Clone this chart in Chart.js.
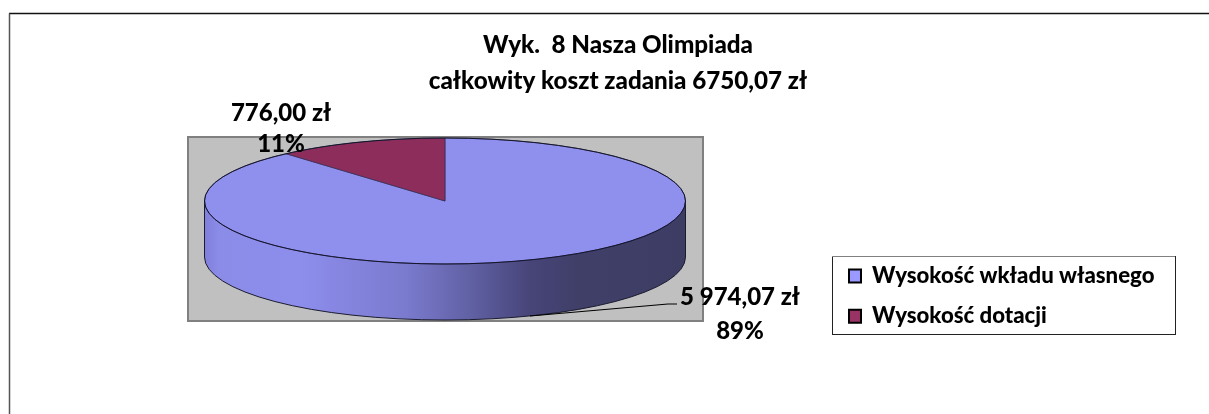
<!DOCTYPE html>
<html lang="pl">
<head>
<meta charset="utf-8">
<title>Wyk. 8 Nasza Olimpiada</title>
<script src="https://cdn.jsdelivr.net/npm/chart.js@4"></script>
<style>
    html, body { margin: 0; padding: 0; background: #fff; }
    canvas { display: block; }
</style>
</head>
<body>
<canvas id="chart" width="1209" height="414"></canvas>
<script>
const titleLines = ['Wyk.  8 Nasza Olimpiada', 'całkowity koszt zadania 6750,07 zł'];
const categories = ['Wysokość wkładu własnego', 'Wysokość dotacji'];
const values = [5974.07, 776.00];
const valueLabels = ['5 974,07 zł', '776,00 zł'];
const percentLabels = ['89%', '11%'];

const FONT = 'Lato, "Open Sans", sans-serif';
const sliceColors = ['#8f8fee', '#8c2d5c'];
const swatchColors = ['#9999ff', '#993366'];

// Position of the pie on the page: the pie is a flat circle squashed into an ellipse
const pie = { cx: 445, cy: 201, rx: 240.5, ry: 63, depth: 56 };
const plotBox = { x: 188, y: 137, w: 515, h: 184 };
const legendBox = { x: 832, y: 256, w: 343, h: 78 };
const legendAt = { left: 831, top: 247 };
const labelSpots = [
    { x: 740, y1: 297, y2: 331 },
    { x: 281, y1: 113, y2: 144 }
];

const ellipsePlugin = {
    id: 'ellipsePie',
    afterLayout(chart) {
        // the legend box is not docked on a side of the chart in the reference
        chart.legend.left = legendAt.left;
        chart.legend.top = legendAt.top;
    },
    beforeDraw(chart) {
        const ctx = chart.ctx;
        ctx.save();
        // outer frame, open on the right and at the bottom
        ctx.strokeStyle = '#111';
        ctx.lineWidth = 1.5;
        ctx.beginPath();
        ctx.moveTo(9, 13.5);
        ctx.lineTo(1209, 13.5);
        ctx.stroke();
        ctx.strokeStyle = '#555';
        ctx.beginPath();
        ctx.moveTo(9.5, 13.5);
        ctx.lineTo(9.5, 414);
        ctx.stroke();

        // plot area
        ctx.fillStyle = '#c0c0c0';
        ctx.fillRect(plotBox.x, plotBox.y, plotBox.w, plotBox.h);
        ctx.strokeStyle = '#808080';
        ctx.lineWidth = 2;
        ctx.strokeRect(plotBox.x, plotBox.y, plotBox.w, plotBox.h);

        // legend frame
        ctx.fillStyle = '#fff';
        ctx.fillRect(legendBox.x, legendBox.y, legendBox.w, legendBox.h);
        ctx.strokeStyle = '#222';
        ctx.lineWidth = 1;
        ctx.strokeRect(legendBox.x + 0.5, legendBox.y + 0.5, legendBox.w, legendBox.h);
        ctx.strokeStyle = '#808080';
        ctx.beginPath();
        ctx.moveTo(legendBox.x, legendBox.y + 0.5);
        ctx.lineTo(legendBox.x + legendBox.w, legendBox.y + 0.5);
        ctx.stroke();
        ctx.restore();
    },
    beforeDatasetDraw(chart, args) {
        const ctx = chart.ctx;
        const arc = args.meta.data[0];
        const k = pie.ry / arc.outerRadius;

        // side wall of the pie
        const r = arc.outerRadius;
        const side = ctx.createLinearGradient(pie.cx - r, 0, pie.cx + r, 0);
        side.addColorStop(0, '#8080dc');
        side.addColorStop(0.03, '#8b8be8');
        side.addColorStop(0.2, '#8d8dec');
        side.addColorStop(0.42, '#7a7ace');
        side.addColorStop(0.56, '#5f5fa2');
        side.addColorStop(0.68, '#474478');
        side.addColorStop(0.78, '#3f3f68');
        side.addColorStop(1, '#3d3d64');
        ctx.save();
        ctx.beginPath();
        ctx.moveTo(pie.cx - r, pie.cy);
        ctx.lineTo(pie.cx - r, pie.cy + pie.depth);
        ctx.ellipse(pie.cx, pie.cy + pie.depth, r, r * k, 0, Math.PI, 0, true);
        ctx.lineTo(pie.cx + r, pie.cy);
        ctx.closePath();
        ctx.fillStyle = side;
        ctx.fill();
        ctx.strokeStyle = '#1c1c30';
        ctx.lineWidth = 1;
        ctx.stroke();
        ctx.restore();

        // the library draws the top face, only squashed
        ctx.save();
        ctx.translate(pie.cx, pie.cy);
        ctx.scale(1, k);
        ctx.translate(-arc.x, -arc.y);
    },
    afterDatasetDraw(chart, args) {
        const ctx = chart.ctx;
        const arc = args.meta.data[0];
        ctx.restore();

        ctx.save();
        ctx.strokeStyle = '#14142a';
        ctx.lineWidth = 1;
        ctx.beginPath();
        ctx.ellipse(pie.cx, pie.cy, arc.outerRadius, pie.ry, 0, 0, Math.PI * 2);
        ctx.stroke();

        // leader line of the big slice
        ctx.strokeStyle = '#000';
        ctx.lineWidth = 1.2;
        ctx.beginPath();
        ctx.moveTo(530, 316);
        ctx.lineTo(668, 304);
        ctx.lineTo(677, 304);
        ctx.stroke();

        // data labels
        ctx.fillStyle = '#000';
        ctx.font = '900 24px ' + FONT;
        ctx.textAlign = 'center';
        ctx.textBaseline = 'middle';
        labelSpots.forEach((spot, i) => {
            ctx.fillText(valueLabels[i], spot.x, spot.y1);
            ctx.fillText(percentLabels[i], spot.x, spot.y2);
        });
        ctx.restore();
    }
};

new Chart(document.getElementById('chart').getContext('2d'), {
    type: 'pie',
    data: {
        labels: categories,
        datasets: [{
            data: values,
            backgroundColor: sliceColors,
            borderColor: '#2a2a50',
            borderWidth: 1,
            radius: pie.rx,
            clip: false
        }]
    },
    options: {
        responsive: false,
        animation: false,
        layout: { padding: { left: 27 } },
        plugins: {
            title: {
                display: true,
                text: titleLines,
                color: '#000',
                font: { family: FONT, size: 24.2, weight: '900', lineHeight: 1.5 },
                padding: { top: 27, bottom: 0 }
            },
            legend: {
                position: 'right',
                align: 'start',
                labels: {
                    color: '#000',
                    font: { family: FONT, size: 22.2, weight: '900' },
                    boxWidth: 12,
                    boxHeight: 13,
                    padding: 18,
                    generateLabels() {
                        return categories.map((name, i) => ({
                            text: name,
                            fillStyle: swatchColors[i],
                            strokeStyle: '#000',
                            lineWidth: 2,
                            index: i
                        }));
                    }
                }
            },
            tooltip: { enabled: false }
        }
    },
    plugins: [ellipsePlugin]
});
</script>
</body>
</html>
